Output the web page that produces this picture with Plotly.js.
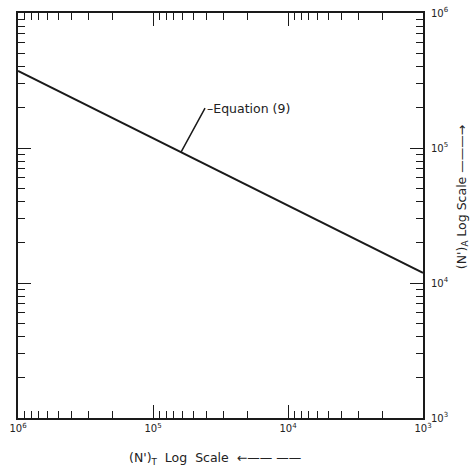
<!DOCTYPE html>
<html>
<head>
<meta charset="utf-8">
<script src="https://cdn.plot.ly/plotly-3.0.1.min.js"></script>
<style>html,body{margin:0;padding:0;background:#fff;}</style>
</head>
<body>
<div id="chart" style="width:473px;height:471px;"></div>
<script>
// Data
var lineX = [1e6, 1e3];          // (N')_T
var lineY = [3.72e5, 1.19e4];    // (N')_A, Equation (9)
var xTickVals = [1e6, 1e5, 1e4, 1e3];
var xTickText = ["10<sup>6</sup>", "10<sup>5</sup>", "10<sup>4</sup>", "10<sup>3</sup>"];
var yTickVals = [1e3, 1e4, 1e5, 1e6];
var yTickText = ["10<sup>3</sup>", "10<sup>4</sup>", "10<sup>5</sup>", "10<sup>6</sup>"];
var labelX = 6.2e4;              // where the label's leader touches the line
var seriesLabel = "Equation (9)";

// point on the line (log-log interpolation) for annotation anchor
var lx0 = Math.log10(lineX[0]), lx1 = Math.log10(lineX[1]);
var ly0 = Math.log10(lineY[0]), ly1 = Math.log10(lineY[1]);
var ax_ = Math.log10(labelX);
var ay_ = ly0 + (ly1 - ly0) * (ax_ - lx0) / (lx1 - lx0);

var font = {family: "DejaVu Sans, Liberation Sans, sans-serif", color: "#222", size: 12.5};

var trace = {
  x: lineX, y: lineY, type: "scatter", mode: "lines",
  line: {color: "#1a1a1a", width: 2}, hoverinfo: "none", showlegend: false
};

var axisCommon = {
  type: "log", autorange: false,
  showgrid: false, zeroline: false,
  showline: true, linecolor: "#1a1a1a", linewidth: 2,
  mirror: "ticks", ticks: "inside", ticklen: 13, tickwidth: 1, tickcolor: "#1a1a1a",
  tickmode: "array",
  minor: {ticks: "inside", ticklen: 7, tickwidth: 1, tickcolor: "#1a1a1a", dtick: "D1", showgrid: false},
  tickfont: {family: font.family, size: 10, color: "#222"}
};

var layout = {
  width: 473, height: 471,
  margin: {l: 18, r: 50, t: 13, b: 53},
  paper_bgcolor: "#fff", plot_bgcolor: "#fff",
  showlegend: false,
  xaxis: Object.assign({}, axisCommon, {
    range: [6, 3], tickvals: xTickVals, ticktext: xTickText
  }),
  yaxis: Object.assign({}, axisCommon, {
    range: [3, 6], side: "right", tickvals: yTickVals, ticktext: yTickText, ticklabelstandoff: 4
  }),
  annotations: [
    {
      x: ax_, y: ay_, xref: "x", yref: "y",
      text: "\u2013" + seriesLabel, showarrow: true, arrowhead: 0, arrowwidth: 1.5,
      arrowcolor: "#1a1a1a", ax: 24, ay: -44, xanchor: "left", yanchor: "middle",
      standoff: 0, startstandoff: 0, font: font
    },
    {
      x: 0.486, y: -0.101, xref: "paper", yref: "paper",
      text: "(N')<sub>T</sub>  Log  Scale  \u2190\u2014\u2014 \u2014\u2014",
      showarrow: false, xanchor: "center", yanchor: "middle", font: font
    },
    {
      x: 1.096, y: 0.545, xref: "paper", yref: "paper", textangle: -90,
      text: "(N')<sub>A</sub> Log Scale \u2014\u2014\u2014\u2192",
      showarrow: false, xanchor: "center", yanchor: "middle", font: font
    }
  ]
};

Plotly.newPlot("chart", [trace], layout, {staticPlot: true, displayModeBar: false});
</script>
</body>
</html>
